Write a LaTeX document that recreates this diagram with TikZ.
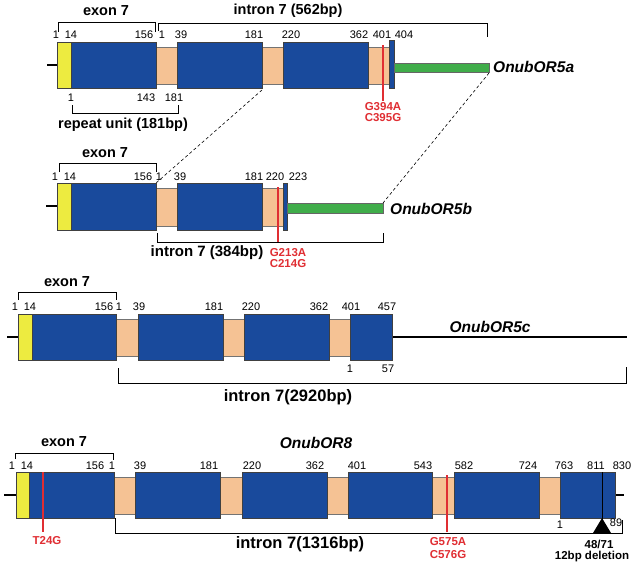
\documentclass[tikz,border=0pt]{standalone}
\usepackage{fontspec}
\setmainfont{Liberation Sans}
\usepackage{xcolor}
\usetikzlibrary{positioning}
\definecolor{cdsblue}{rgb}{0.10,0.29,0.61}
\definecolor{capyellow}{rgb}{0.93,0.92,0.25}
\definecolor{intpeach}{rgb}{0.96,0.76,0.58}
\definecolor{utrgreen}{rgb}{0.25,0.68,0.29}
\definecolor{mutred}{rgb}{0.88,0.18,0.20}
\tikzset{
  cdsbox/.style={draw=black!75,fill=cdsblue,line width=0.6pt},
  capbox/.style={draw=black!75,fill=capyellow,line width=0.6pt},
  intbox/.style={draw=black!55,fill=intpeach,line width=0.6pt},
  utrbar/.style={draw=black!60,fill=utrgreen,line width=0.5pt},
  stubln/.style={line width=1.8pt},
  brk/.style={line width=0.7pt},
  mutln/.style={mutred,line width=1.8pt},
  guideln/.style={line width=0.6pt,dash pattern=on 3pt off 2.5pt},
  numlab/.style={font=\fontsize{11}{12}\selectfont,inner sep=0pt},
  boldlab/.style={font=\fontsize{14.5}{16}\selectfont\bfseries,inner sep=0pt},
  genelab/.style={font=\fontsize{15.5}{17}\selectfont\bfseries\itshape,inner sep=0pt},
  redlab/.style={font=\fontsize{11.5}{12}\selectfont\bfseries,text=mutred,inner sep=0pt},
}
\begin{document}
\begin{tikzpicture}[x=1pt,y=-1pt]
  \useasboundingbox (0,0) rectangle (636,568);
  % ---------- OnubOR5a ----------
  \draw[stubln] (47,65) -- (57,65);
  \draw[intbox] (156,47) rectangle (177,84);
  \draw[intbox] (262,47) rectangle (283,84);
  \draw[intbox] (368,47) rectangle (389,84);
  \draw[capbox] (57,42) rectangle (71,88);
  \draw[cdsbox] (71,42) rectangle (156,88);
  \draw[cdsbox] (177,42) rectangle (262,88);
  \draw[cdsbox] (283,42) rectangle (368,88);
  \draw[cdsbox] (389,40) rectangle (394,88);
  \draw[utrbar] (394,63) rectangle (489,72);
  \draw[mutln] (383,45) -- (383,101);
  \draw[brk] (58,32) -- (58,22) -- (155,22) -- (155,32);
  \draw[brk] (158,31) -- (158,23) -- (487,23) -- (487,37);
  \draw[brk] (72,105) -- (72,113) -- (178,113) -- (178,105);
  \node[boldlab] (exA) at (106,11) {exon 7};
  \node[boldlab] (inA) at (288,11) {intron 7 (562bp)};
  \node[boldlab] (repA) at (123,125) {repeat unit (181bp)};
  \node[genelab,anchor=west] (gA) at (493,67) {OnubOR5a};
  \node[redlab] (mA1) at (383,107) {G394A};
  \node[redlab] (mA2) at (383,118) {C395G};
  \foreach \x/\t [count=\i] in {56/1,71/14,144/156,162/1,181/39,254/181,291/220,359/362,382/401,404/404}
    \node[numlab] (na\i) at (\x,35) {\t};
  \foreach \x/\t [count=\i] in {71/1,146/143,174/181}
    \node[numlab] (nb\i) at (\x,98) {\t};
  % ---------- OnubOR5b ----------
  \draw[stubln] (46,206) -- (57,206);
  \draw[intbox] (156,188) rectangle (177,226);
  \draw[intbox] (262,188) rectangle (283,226);
  \draw[capbox] (57,183) rectangle (71,230);
  \draw[cdsbox] (71,183) rectangle (156,230);
  \draw[cdsbox] (177,183) rectangle (262,230);
  \draw[cdsbox] (283,183) rectangle (287,230);
  \draw[utrbar] (287,203) rectangle (383,213);
  \draw[mutln] (278,187) -- (278,243);
  \draw[brk] (59,172) -- (59,163) -- (156,163) -- (156,172);
  \draw[brk] (157,233) -- (157,242) -- (383,242) -- (383,233);
  \node[boldlab] (exB) at (105,153) {exon 7};
  \node[boldlab,font=\fontsize{15}{16}\selectfont\bfseries] (inB) at (207,253) {intron 7 (384bp)};
  \node[genelab,anchor=west] (gB) at (390,209) {OnubOR5b};
  \node[redlab] (mB1) at (288,253) {G213A};
  \node[redlab] (mB2) at (288,264) {C214G};
  \foreach \x/\t [count=\i] in {55/1,70/14,143/156,159/1,180/39,254/181,275/220,298/223}
    \node[numlab] (nc\i) at (\x,177) {\t};
  % dashed guides between 5a and 5b
  \coordinate (dA1) at (262,90);
  \coordinate (dB1) at (156,183);
  \coordinate (dA2) at (489,73);
  \coordinate (dB2) at (383,203);
  \draw[guideln] (dA1) -- (dB1);
  \draw[guideln] (dA2) -- (dB2);
  % ---------- OnubOR5c ----------
  \draw[stubln] (7,337) -- (18,337);
  \draw[stubln] (392,337) -- (627,337);
  \draw[intbox] (116,319) rectangle (138,356);
  \draw[intbox] (223,319) rectangle (244,356);
  \draw[intbox] (329,319) rectangle (350,356);
  \draw[capbox] (18,314) rectangle (32,360);
  \draw[cdsbox] (32,314) rectangle (116,360);
  \draw[cdsbox] (138,314) rectangle (223,360);
  \draw[cdsbox] (244,314) rectangle (329,360);
  \draw[cdsbox] (350,314) rectangle (392,360);
  \draw[brk] (18,300) -- (18,292) -- (116,292) -- (116,300);
  \draw[brk] (118,368) -- (118,383) -- (626,383) -- (626,367);
  \node[boldlab] (exC) at (67,282) {exon 7};
  \node[boldlab,font=\fontsize{16.5}{18}\selectfont\bfseries] (inC) at (288,397) {intron 7(2920bp)};
  \node[genelab] (gC) at (490,327) {OnubOR5c};
  \foreach \x/\t [count=\i] in {15/1,30/14,104/156,119/1,139/39,214/181,251/220,319/362,351/401,387/457}
    \node[numlab] (nd\i) at (\x,307) {\t};
  \node[numlab] (ne1) at (350,369) {1};
  \node[numlab] (ne2) at (388,369) {57};
  % ---------- OnubOR8 ----------
  \draw[stubln] (4,495) -- (16,495);
  \draw[stubln] (615,495) -- (624,495);
  \draw[intbox] (114,477) rectangle (135,514);
  \draw[intbox] (220,477) rectangle (242,514);
  \draw[intbox] (327,477) rectangle (348,514);
  \draw[intbox] (432,477) rectangle (454,514);
  \draw[intbox] (539,477) rectangle (560,514);
  \draw[capbox] (16,472) rectangle (29,518);
  \draw[cdsbox] (29,472) rectangle (114,518);
  \draw[cdsbox] (135,472) rectangle (220,518);
  \draw[cdsbox] (242,472) rectangle (327,518);
  \draw[cdsbox] (348,472) rectangle (432,518);
  \draw[cdsbox] (454,472) rectangle (539,518);
  \draw[cdsbox] (560,472) rectangle (615,518);
  \draw[line width=0.8pt] (602,472) -- (602,520);
  \fill (602,518) -- (593,533) -- (611,533) -- cycle;
  \draw[mutln] (43,472) -- (43,532);
  \draw[mutln] (447,475) -- (447,532);
  \draw[brk] (15,459) -- (15,453) -- (113,453) -- (113,460);
  \draw[brk] (115,518) -- (115,533) -- (622,533) -- (622,520);
  \node[boldlab] (exD) at (64,442) {exon 7};
  \node[genelab] (gD) at (316,443) {OnubOR8};
  \node[boldlab,font=\fontsize{16.5}{18}\selectfont\bfseries] (inD) at (300,544) {intron 7(1316bp)};
  \node[redlab] (mD1) at (47,541) {T24G};
  \node[redlab] (mD2) at (448,542) {G575A};
  \node[redlab] (mD3) at (448,555) {C576G};
  \node[redlab,text=black] (del1) at (599,544) {48/71};
  \node[redlab,text=black] (del2) at (592,557) {12bp deletion};
  \foreach \x/\t [count=\i] in {12/1,27/14,95/156,112/1,140/39,209/181,252/220,315/362,357/401,423/543,464/582,528/724,564/763,596/811,622/830}
    \node[numlab] (nf\i) at (\x,466) {\t};
  \node[numlab] (ng1) at (560,525) {1};
  \node[numlab] (ng2) at (616,523) {89};
\end{tikzpicture}
\end{document}
